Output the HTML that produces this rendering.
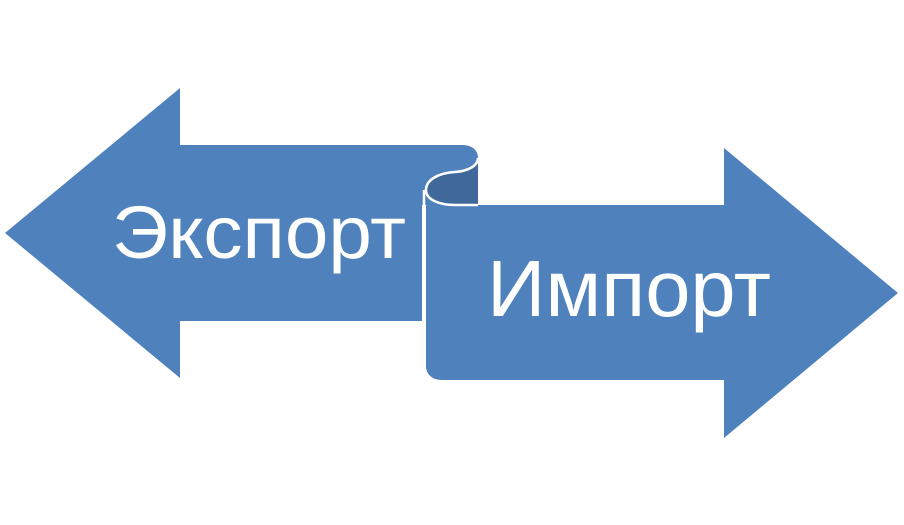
<!DOCTYPE html>
<html><head><meta charset="utf-8"><style>
html,body{margin:0;padding:0;background:#fff;width:904px;height:525px;overflow:hidden}
svg{display:block}
text{font-family:"Liberation Sans",sans-serif;fill:#fff}
</style></head><body>
<svg width="904" height="525" viewBox="0 0 904 525">
<!-- left arrow -->
<path d="M5,233 L180,88 L180,145 L462,145 C472,145 478,150 478,158 L478,205 L422,205 L422,321 L180,321 L180,378 Z" fill="#4f81bd"/>
<!-- dark inner of roll -->
<path d="M426,190 C426,178 440,172 455,172 C468,171 478,166 478,158 L478,205 L455,205 C438,205 426,200 426,190 Z" fill="#41689a"/>
<!-- right arrow / front sheet -->
<path d="M426,190 C426,200 440,205 455,205 L724,205 L724,148 L898,293 L724,438 L724,380 L442,380 C432,380 426,374 426,366 Z" fill="#4f81bd"/>
<!-- white outline of roll -->
<path d="M478,158 C478,166 468,171 455,172 C438,173 426,180 426,190 C426,200 440,205 455,205 L478,205" fill="none" stroke="#fff" stroke-width="2.5"/>
<path d="M424,190 L424,368" stroke="#fff" stroke-width="2.5"/>
<text x="112" y="258" font-size="74" textLength="294" lengthAdjust="spacingAndGlyphs">Экспорт</text>
<text x="487" y="316" font-size="80" textLength="284" lengthAdjust="spacingAndGlyphs">Импорт</text>
</svg>
</body></html>
